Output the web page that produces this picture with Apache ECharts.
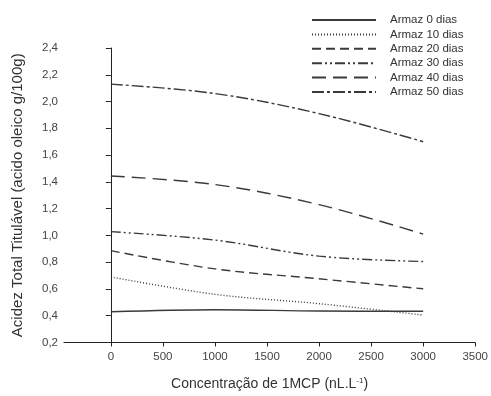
<!DOCTYPE html>
<html><head><meta charset="utf-8">
<script src="https://cdn.jsdelivr.net/npm/echarts@6/dist/echarts.min.js"></script>
<style>html,body{margin:0;padding:0;background:#fff}#c{width:491px;height:396px}</style>
</head><body><div id="c"></div>
<script>
const concentrations = [0, 1000, 2000, 3000];
const seriesNames = ['Armaz 0 dias','Armaz 10 dias','Armaz 20 dias','Armaz 30 dias','Armaz 40 dias','Armaz 50 dias'];
const dias0  = [0.43, 0.445, 0.435, 0.433];
const dias10 = [0.69, 0.56, 0.49, 0.405];
const dias20 = [0.886, 0.75, 0.676, 0.601];
const dias30 = [1.028, 0.965, 0.845, 0.805];
const dias40 = [1.444, 1.38, 1.23, 1.01];
const dias50 = [2.13, 2.06, 1.91, 1.70];
const xTicks = [0, 500, 1000, 1500, 2000, 2500, 3000, 3500];

const allValues = [dias0, dias10, dias20, dias30, dias40, dias50];
const dashes = ['solid', [1,2], [9,5], [10,3,2,3,2,3], [14,7], [12,3,3,3]];
const col = '#3a3a3a';
const font = 'Liberation Sans, Arial, sans-serif';

const series = allValues.map((vals, i) => ({
  name: seriesNames[i],
  type: 'line',
  data: concentrations.map((c, j) => [c, vals[j]]),
  symbol: 'none',
  smooth: 0.35,
  lineStyle: { color: col, width: 1.4, type: dashes[i] },
  itemStyle: { color: col }
}));

const chart = echarts.init(document.getElementById('c'), null, {renderer:'canvas'});
chart.setOption({
  animation: false,
  backgroundColor: '#fff',
  grid: { left: 64, right: 14, top: 48, bottom: 52 },
  legend: {
    orient: 'vertical', left: 306, top: 9,
    itemWidth: 64, itemHeight: 8, itemGap: 2.4,
    itemStyle: { opacity: 0 },
    textStyle: { fontFamily: font, fontSize: 11.5, lineHeight: 12, color: '#333', padding: [0,0,0,9] },
    data: seriesNames
  },
  xAxis: {
    type: 'value', min: -450, max: 3500,
    name: 'Concentração de 1MCP (nL.L{sup|-1})',
    nameLocation: 'middle', nameGap: 34,
    nameTextStyle: { fontFamily: font, fontSize: 14, color: '#333',
      rich: { sup: { fontSize: 8, verticalAlign: 'top', padding: [0,0,7,0], fontFamily: font, color: '#333' } } },
    splitLine: { show: false },
    axisLine: { lineStyle: { color: '#222', width: 1 } },
    axisTick: { show: true, inside: false, length: 4, lineStyle: { color: '#222' }, customValues: xTicks },
    axisLabel: { fontFamily: font, fontSize: 11.5, color: '#444', margin: 8, customValues: xTicks,
      formatter: v => String(v) }
  },
  yAxis: {
    type: 'value', min: 0.2, max: 2.4, interval: 0.2,
    name: 'Acidez Total Titulável (acido oleico g/100g)',
    nameLocation: 'middle', nameGap: 39,
    nameTextStyle: { fontFamily: font, fontSize: 15, color: '#333' },
    splitLine: { show: false },
    axisLine: { show: true, lineStyle: { color: '#222', width: 1 } },
    axisTick: { show: true, length: 5, lineStyle: { color: '#222' } },
    axisLabel: { fontFamily: font, fontSize: 11.5, color: '#444', margin: 6,
      formatter: v => v.toFixed(1).replace('.', ',') }
  },
  series: series
});
</script></body></html>
